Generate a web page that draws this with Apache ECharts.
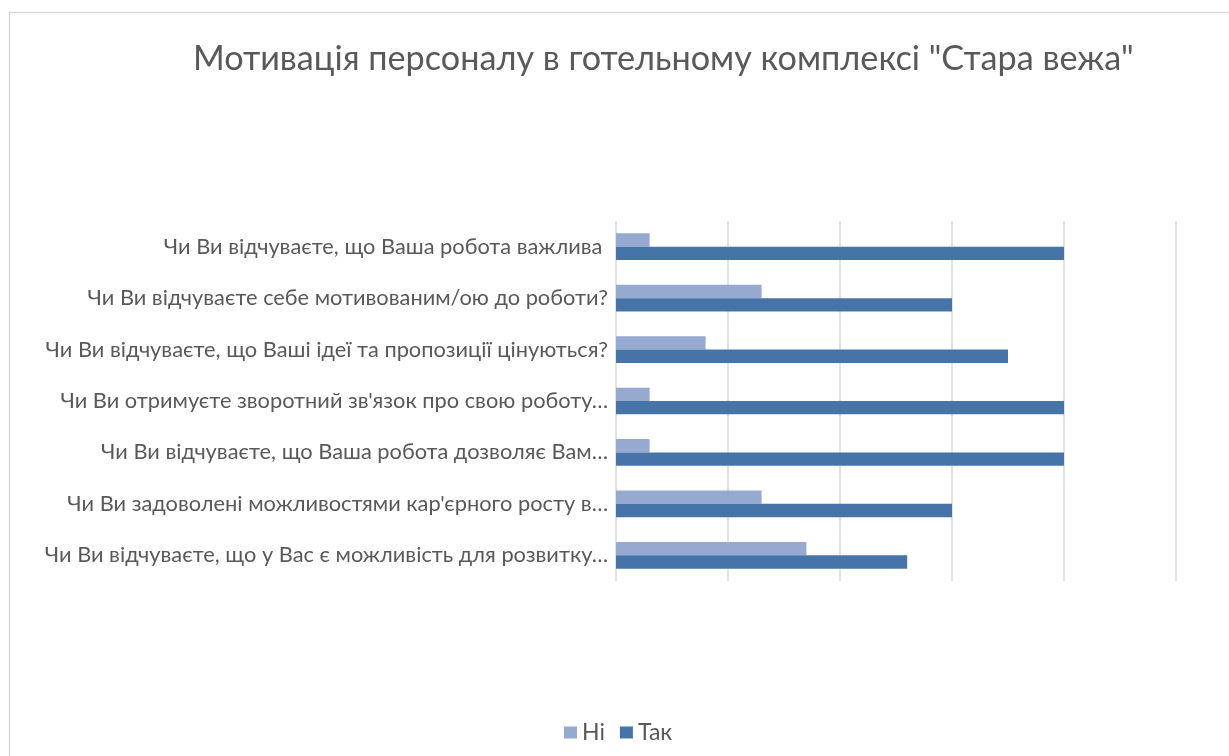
<!DOCTYPE html>
<html><head><meta charset="utf-8">
<script src="https://cdn.jsdelivr.net/npm/echarts@6/dist/echarts.min.js"></script>
<style>html,body{margin:0;padding:0;background:#fff}#c{width:1229px;height:756px}</style>
</head><body><div id="c"></div>
<script>
const categories = [
  "Чи Ви відчуваєте, що Ваша робота важлива ",
  "Чи Ви відчуваєте себе мотивованим/ою до роботи?",
  "Чи Ви відчуваєте, що Ваші ідеї та пропозиції цінуються?",
  "Чи Ви отримуєте зворотний зв'язок про свою роботу…",
  "Чи Ви відчуваєте, що Ваша робота дозволяє Вам…",
  "Чи Ви задоволені можливостями кар'єрного росту в…",
  "Чи Ви відчуваєте, що у Вас є можливість для розвитку…"
];
const seriesNames = ["Ні", "Так"];
const niValues = [0.3, 1.3, 0.8, 0.3, 0.3, 1.3, 1.7];
const takValues = [4, 3, 3.5, 4, 4, 3, 2.6];
const titleText = 'Мотивація персоналу в готельному комплексі "Стара вежа"';

const chart = echarts.init(document.getElementById('c'), null, {renderer: 'canvas'});
const font = 'Lato';
chart.setOption({
  animation: false,
  graphic: [{type: 'rect', shape: {x: 9.5, y: 12.5, width: 1240, height: 760}, style: {fill: 'none', stroke: '#d9d9d9', lineWidth: 1.5}}],
  title: {text: titleText, left: 188, top: 37, textStyle: {fontFamily: font, fontSize: 34.2, fontWeight: 'normal', color: '#595959'}},
  legend: {data: seriesNames, bottom: 7, left: 559, itemWidth: 13, itemHeight: 12, itemGap: 15, icon: 'rect',
    textStyle: {fontFamily: font, fontSize: 23, color: '#595959'}},
  grid: {left: 616, right: 53, top: 221, bottom: 175, containLabel: false},
  xAxis: {type: 'value', min: 0, max: 5, interval: 1, axisLabel: {show: false}, axisLine: {show: false}, axisTick: {show: false},
    splitLine: {lineStyle: {color: '#d9d9d9', width: 1.5}}},
  yAxis: {type: 'category', data: categories, inverse: true, axisLine: {show: false}, axisTick: {show: false},
    axisLabel: {fontFamily: font, fontSize: 21.8, color: '#595959', margin: 8}},
  series: [
    {name: seriesNames[0], type: 'bar', data: niValues, itemStyle: {color: '#95a9d1'}, barGap: '0%', barCategoryGap: '48%'},
    {name: seriesNames[1], type: 'bar', data: takValues, itemStyle: {color: '#4674a9'}, barGap: '0%', barCategoryGap: '48%'}
  ]
});
</script></body></html>
